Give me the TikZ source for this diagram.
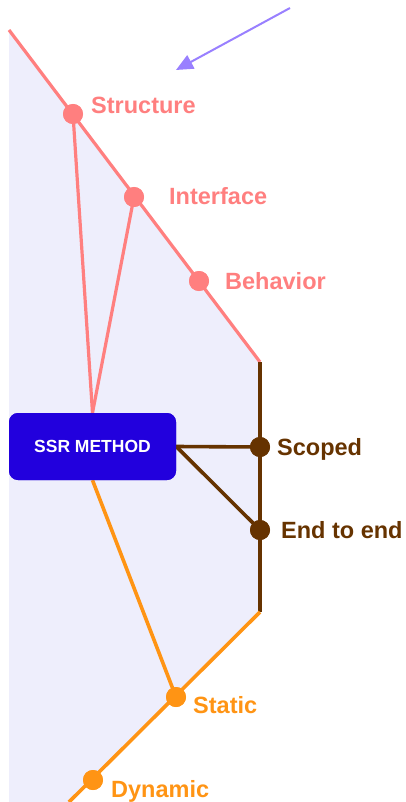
\documentclass[tikz,border=0pt]{standalone}
\usepackage{fontspec}
\setmainfont{Liberation Sans}
\usetikzlibrary{arrows.meta}
\definecolor{pinkc}{HTML}{FF7F7F}
\definecolor{brownc}{HTML}{663300}
\definecolor{orangec}{HTML}{FF9414}
\definecolor{boxc}{HTML}{2200DD}
\definecolor{shadec}{HTML}{EEEEFC}
\definecolor{arrowc}{HTML}{9980FF}
\begin{document}
\begin{tikzpicture}[x=1pt,y=-1pt,
  dot/.style={circle,fill=#1,inner sep=0pt,minimum size=20pt},
  lbl/.style={anchor=base west,inner sep=0pt,text=#1,font=\fontsize{23.5}{23.5}\selectfont\bfseries},
  pinkline/.style={draw=pinkc,line width=3.2pt},
  brownline/.style={draw=brownc,line width=3.6pt},
  orangeline/.style={draw=orangec,line width=3.6pt},
  method/.style={fill=boxc,rounded corners=9pt,minimum width=167pt,minimum height=67pt,
    inner sep=0pt,text=white,font=\fontsize{17.5}{17.5}\selectfont\bfseries}]
\useasboundingbox (0,0) rectangle (405,802);
% outline corners
\coordinate (ptop) at (9,30);
\coordinate (pbot) at (260,362);
\coordinate (obot) at (69,802);
\coordinate (otop) at (260,612);
\coordinate (lbot) at (9,802);
% shaded region
\fill[shadec] (ptop) -- (pbot) -- (otop) -- (obot) -- (lbot) -- cycle;
% pointer arrow
\coordinate (atail) at (290,8);
\coordinate (ahead) at (176,70);
\draw[arrowc,line width=2pt,-{Triangle[length=17pt,width=15pt]}] (atail) -- (ahead);
% method box and dots (placed first so connectors can refer to them)
\node[method] (ssr) at (92.5,446.5) {SSR METHOD};
\node[dot=pinkc] (structure) at (73,114) {};
\node[dot=pinkc] (interface) at (134,197) {};
\node[dot=pinkc] (behavior) at (199,281) {};
\node[dot=brownc] (scoped) at (260,447) {};
\node[dot=brownc] (endtoend) at (260,530) {};
\node[dot=orangec] (static) at (176,697) {};
\node[dot=orangec] (dynamic) at (93,780) {};
% boundary lines
\draw[pinkline] (ptop) -- (pbot);
\draw[brownline] (pbot) -- (otop);
\draw[orangeline] (otop) -- (obot);
% connectors
\draw[pinkline] (ssr.north) -- (structure.center);
\draw[pinkline] (ssr.north) -- (interface.center);
\draw[brownline] (ssr.east) -- (scoped.center);
\draw[brownline] (ssr.east) -- (endtoend.center);
\draw[orangeline] (ssr.south) -- (static.center);
% redraw dots and box on top of the lines
\node[dot=pinkc] at (structure) {};
\node[dot=pinkc] at (interface) {};
\node[dot=pinkc] at (behavior) {};
\node[dot=brownc] at (scoped) {};
\node[dot=brownc] at (endtoend) {};
\node[dot=orangec] at (static) {};
\node[dot=orangec] at (dynamic) {};
\node[method] at (ssr) {SSR METHOD};
% labels
\node[lbl=pinkc] (lstructure) at (91,114) {Structure};
\node[lbl=pinkc] (linterface) at (169,205) {Interface};
\node[lbl=pinkc] (lbehavior) at (225,289) {Behavior};
\node[lbl=brownc] (lscoped) at (277,455) {Scoped};
\node[lbl=brownc] (lendtoend) at (281,538) {End to end};
\node[lbl=orangec] (lstatic) at (193,713) {Static};
\node[lbl=orangec] (ldynamic) at (111,797) {Dynamic};
\end{tikzpicture}
\end{document}
